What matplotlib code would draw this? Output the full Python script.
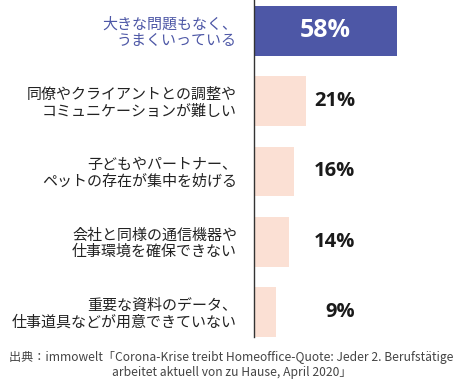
import matplotlib
matplotlib.use("Agg")
import matplotlib.pyplot as plt

categories = [
    "大きな問題もなく、\nうまくいっている",
    "同僚やクライアントとの調整や\nコミュニケーションが難しい",
    "子どもやパートナー、\nペットの存在が集中を妨げる",
    "会社と同様の通信機器や\n仕事環境を確保できない",
    "重要な資料のデータ、\n仕事道具などが用意できていない",
]
values = [58, 21, 16, 14, 9]
value_labels = ["58%", "21%", "16%", "14%", "9%"]
source = "出典：immowelt「Corona-Krise treibt Homeoffice-Quote: Jeder 2. Berufstätige\narbeitet aktuell von zu Hause, April 2020」"

blue = "#4d57a6"
pink = "#fbe0d4"
jp = ["Noto Sans CJK JP", "DejaVu Sans"]
num = ["Open Sans", "DejaVu Sans"]

fig = plt.figure(figsize=(4.63, 3.90), dpi=100)
ax = fig.add_axes([254 / 463, 53 / 390, 209 / 463, 337 / 390])

colors = [blue] + [pink] * (len(values) - 1)
ypos = list(range(len(values)))
ax.barh(ypos, values, height=0.71, color=colors, zorder=1)
ax.set_xlim(0, 209 / 2.47)
ax.set_ylim(4.355, -0.44)

for spine in ["top", "right", "bottom"]:
    ax.spines[spine].set_visible(False)
ax.spines["left"].set_color("#333333")
ax.spines["left"].set_linewidth(1.0)
ax.spines["left"].set_zorder(3)
ax.set_xticks([])
ax.set_yticks([])

for i, (cat, v, lab) in enumerate(zip(categories, values, value_labels)):
    ax.text(-17 / 2.47, i + 0.03, cat, ha="right", va="center", fontsize=10.8,
            family=jp, color=blue if i == 0 else "#222222", linespacing=1.2)
    if i == 0:
        ax.text(v / 2, i, lab, ha="center", va="center", fontsize=18,
                family=num, fontweight="bold", color="white")
    else:
        ax.text(101 / 2.47, i, lab, ha="right", va="center", fontsize=14.5,
                family=num, fontweight="bold", color="#1a1a1a")

fig.text(0.5, 1 - 365 / 390, source, ha="center", va="center", fontsize=8.7,
         family=jp, color="#444444", linespacing=1.25)

fig.savefig("out.png", dpi=100)
